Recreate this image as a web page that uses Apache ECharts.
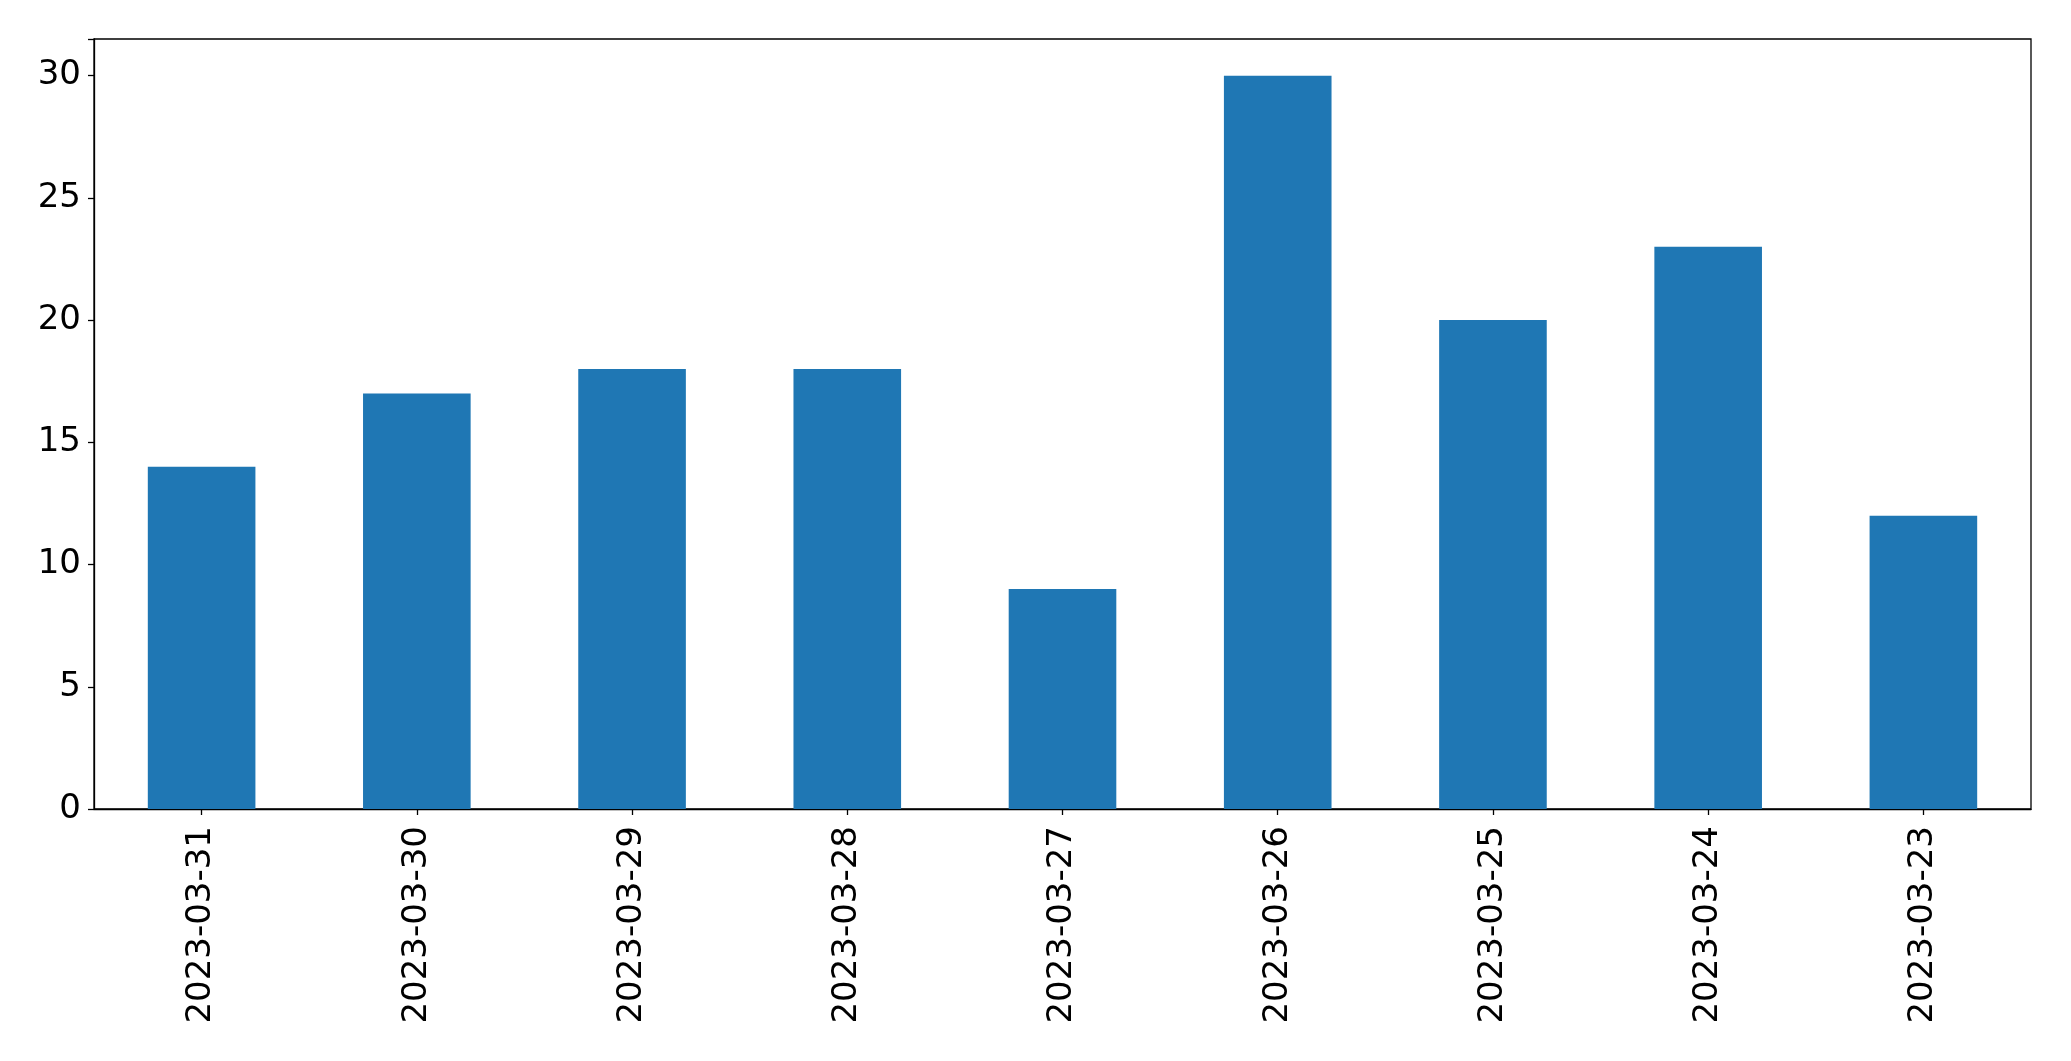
<!DOCTYPE html>
<html>
<head>
<meta charset="utf-8">
<script src="https://cdn.jsdelivr.net/npm/echarts@6/dist/echarts.min.js"></script>
<style>
html,body{margin:0;padding:0;background:#fff;}
#chart{width:2071px;height:1061px;}
</style>
</head>
<body>
<div id="chart"></div>
<script>
const categories = ['2023-03-31','2023-03-30','2023-03-29','2023-03-28','2023-03-27','2023-03-26','2023-03-25','2023-03-24','2023-03-23'];
const values = [14, 17, 18, 18, 9, 30, 20, 23, 12];
const yTicks = [0, 5, 10, 15, 20, 25, 30];

const chart = echarts.init(document.getElementById('chart'), null, {renderer:'canvas'});
const font = 'DejaVu Sans';
chart.setOption({
  animation: false,
  backgroundColor: '#fff',
  grid: {left: 94, top: 39, width: 1937, height: 770, show: true, borderColor: '#000', borderWidth: 1.3, containLabel: false},
  xAxis: {
    type: 'category',
    data: categories,
    axisLine: {show: true, lineStyle: {color: '#000', width: 1.3}},
    axisTick: {show: true, alignWithLabel: true, length: 6, lineStyle: {color: '#000', width: 1.3}},
    axisLabel: {rotate: 90, margin: 17, color: '#000', fontSize: 34, fontFamily: font, interval: 0},
    splitLine: {show: false}
  },
  yAxis: {
    type: 'value',
    min: 0, max: 31.5, interval: 5,
    axisLine: {show: true, lineStyle: {color: '#000', width: 1.3}},
    axisTick: {show: true, length: 6, lineStyle: {color: '#000', width: 1.3}},
    axisLabel: {margin: 13, color: '#000', fontSize: 34, fontFamily: font,
      formatter: function(v){ return yTicks.indexOf(v) >= 0 ? String(v) : ''; }},
    splitLine: {show: false}
  },
  series: [{
    type: 'bar',
    data: values,
    barWidth: '50%',
    itemStyle: {color: '#1f77b4'}
  }]
});
</script>
</body>
</html>
